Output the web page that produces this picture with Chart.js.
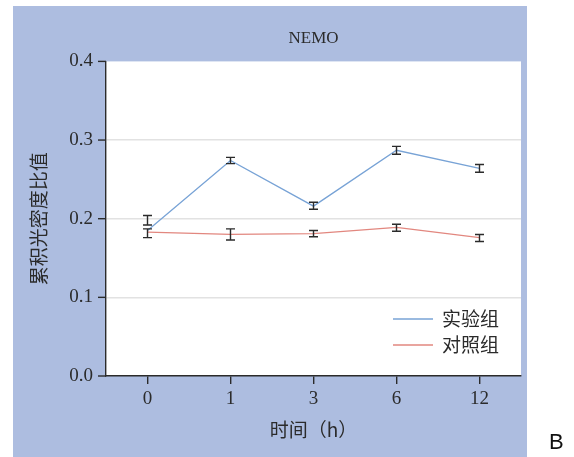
<!DOCTYPE html>
<html>
<head>
<meta charset="utf-8">
<script src="https://cdn.jsdelivr.net/npm/chart.js@4.4.1/dist/chart.umd.min.js"></script>
<style>
  html, body { margin: 0; padding: 0; background: #fff; }
  #wrap { width: 574px; height: 457px; }
</style>
</head>
<body>
<div id="wrap"><canvas id="nemoChart" width="574" height="457"></canvas></div>
<script>
// data
const timeLabels = ['0', '1', '3', '6', '12'];
const seriesNames = ['实验组', '对照组'];
const expMean = [0.185, 0.274, 0.216, 0.287, 0.264];
const expLow  = [0.192, 0.270, 0.212, 0.282, 0.259];
const expHigh = [0.204, 0.278, 0.221, 0.292, 0.269];
const ctlMean = [0.183, 0.180, 0.181, 0.189, 0.176];
const ctlLow  = [0.176, 0.173, 0.177, 0.184, 0.171];
const ctlHigh = [0.187, 0.187, 0.185, 0.193, 0.180];
const yTicks = [0, 0.1, 0.2, 0.3, 0.4];

const panelBlue = '#adbde0';
const ink = '#2b2b2b';
const serif = "'Liberation Serif', 'DejaVu Serif', serif";
const cjk = "'Noto Sans CJK SC', sans-serif";

// background panel + white plot area
const backdrop = {
    id: 'backdrop',
    beforeDraw(chart) {
        const c = chart.ctx, a = chart.chartArea;
        c.save();
        c.fillStyle = '#fff';
        c.fillRect(0, 0, chart.width, chart.height);
        c.fillStyle = panelBlue;
        c.fillRect(13, 6, 514, 451);
        c.fillStyle = '#fff';
        c.fillRect(a.left, a.top, a.right - a.left, a.bottom - a.top);
        c.restore();
    }
};

// error bars, y tick marks, legend and panel letter
const extras = {
    id: 'extras',
    afterDatasetsDraw(chart) {
        const c = chart.ctx;
        const xs = chart.scales.x, ys = chart.scales.y;
        const bars = [[expLow, expHigh], [ctlLow, ctlHigh]];
        c.save();
        c.strokeStyle = ink;
        c.lineWidth = 1.4;
        bars.forEach(([lo, hi]) => {
            lo.forEach((v, i) => {
                const x = xs.getPixelForValue(i);
                const y1 = ys.getPixelForValue(v), y2 = ys.getPixelForValue(hi[i]);
                c.beginPath();
                c.moveTo(x, y1); c.lineTo(x, y2);
                c.moveTo(x - 4.5, y1); c.lineTo(x + 4.5, y1);
                c.moveTo(x - 4.5, y2); c.lineTo(x + 4.5, y2);
                c.stroke();
            });
        });
        c.restore();
    },
    afterDraw(chart) {
        const c = chart.ctx, ys = chart.scales.y, a = chart.chartArea;
        c.save();
        c.strokeStyle = ink;
        c.lineWidth = 1.4;
        yTicks.forEach(v => {
            const y = ys.getPixelForValue(v);
            c.beginPath();
            c.moveTo(a.left - 8, y); c.lineTo(a.left, y);
            c.stroke();
        });
        chart.data.datasets.forEach((ds, i) => {
            const y = 319 + i * 26;
            c.strokeStyle = ds.borderColor;
            c.lineWidth = 1.3;
            c.beginPath();
            c.moveTo(393, y); c.lineTo(433, y);
            c.stroke();
            c.fillStyle = ink;
            c.font = '19px ' + cjk;
            c.textBaseline = 'middle';
            c.fillText(ds.label, 442, y);
        });
        c.fillStyle = '#111';
        c.font = "22px 'Liberation Sans', Arial, sans-serif";
        c.textBaseline = 'middle';
        c.fillText('B', 549, 443);
        c.restore();
    }
};

const ctx = document.getElementById('nemoChart').getContext('2d');
const nemoChart = new Chart(ctx, {
    type: 'line',
    data: {
        labels: timeLabels,
        datasets: [{
            label: seriesNames[0],
            data: expMean,
            borderColor: '#78a3d6',
            borderWidth: 1.3,
            pointRadius: 0,
            tension: 0
        }, {
            label: seriesNames[1],
            data: ctlMean,
            borderColor: '#e2877f',
            borderWidth: 1.3,
            pointRadius: 0,
            tension: 0
        }]
    },
    options: {
        responsive: false,
        animation: false,
        layout: { padding: { left: 0, right: 53, top: 0, bottom: 0 } },
        plugins: {
            legend: { display: false },
            tooltip: { enabled: false },
            title: {
                display: true,
                fullSize: false,
                text: 'NEMO',
                color: ink,
                font: { family: serif, size: 17, weight: 'normal' },
                padding: { top: 28, bottom: 13 }
            }
        },
        scales: {
            x: {
                offset: true,
                afterFit(scale) { scale.height = 81; },
                border: { display: true, color: ink, width: 1.4 },
                grid: { drawOnChartArea: false, drawTicks: true, tickLength: 8, tickColor: ink, lineWidth: 1.4 },
                ticks: { color: ink, font: { family: serif, size: 19 }, padding: 4 },
                title: {
                    display: true,
                    text: '时间（h）',
                    color: ink,
                    font: { family: cjk, size: 19 },
                    padding: { top: 0, bottom: 16 }
                }
            },
            y: {
                min: 0,
                max: 0.4,
                afterFit(scale) { scale.width = 106; },
                afterBuildTicks(scale) { scale.ticks = yTicks.map(v => ({ value: v })); },
                border: { display: true, color: ink, width: 1.4 },
                grid: {
                    color: c => (c.tick && c.tick.value > 0.001 && c.tick.value < 0.399) ? '#e2e2e2' : 'rgba(0,0,0,0)',
                    lineWidth: 1.5,
                    drawTicks: false
                },
                ticks: {
                    color: ink,
                    font: { family: serif, size: 19 },
                    padding: 13,
                    callback: v => Number(v).toFixed(1)
                },
                title: {
                    display: true,
                    text: '累积光密度比值',
                    color: ink,
                    font: { family: cjk, size: 19 },
                    padding: { top: 27, bottom: 0 }
                }
            }
        }
    },
    plugins: [backdrop, extras]
});
</script>
</body>
</html>
